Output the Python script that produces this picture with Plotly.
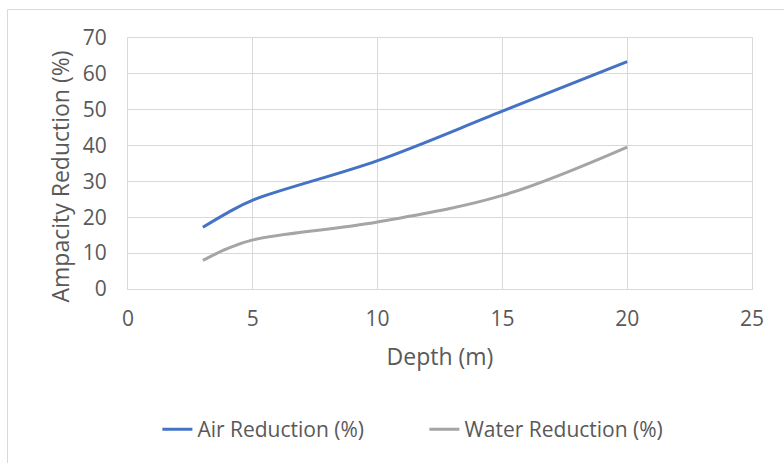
import plotly.graph_objects as go

depth = [3, 4, 5, 10, 15, 20]
air_reduction = [17.2, 21.3, 24.8, 35.8, 49.6, 63.4]
water_reduction = [8.0, 11.3, 13.7, 18.7, 26.1, 39.6]

x_ticks = [0, 5, 10, 15, 20, 25]
y_ticks = [0, 10, 20, 30, 40, 50, 60, 70]

FONT = "Open Sans"
TXT = "#595959"
GRID = "#D9D9D9"
FS = 21
FT = 23

fig = go.Figure()
fig.add_trace(go.Scatter(x=depth, y=air_reduction, mode="lines", name="Air Reduction (%)",
                         line=dict(color="#4472C4", width=3, shape="spline", smoothing=1.0)))
fig.add_trace(go.Scatter(x=depth, y=water_reduction, mode="lines", name="Water Reduction (%)",
                         line=dict(color="#A5A5A5", width=3, shape="spline", smoothing=1.0)))

fig.update_layout(
    width=784, height=463,
    margin=dict(l=128, r=32, t=38, b=174),
    paper_bgcolor="white", plot_bgcolor="white",
    font=dict(family=FONT, size=FS, color=TXT),
    showlegend=True,
    legend=dict(orientation="h", x=0.475, xanchor="center", y=-0.56, yanchor="middle",
                font=dict(family=FONT, size=FS, color=TXT),
                entrywidth=222, entrywidthmode="pixels",
                bgcolor="rgba(0,0,0,0)"),
    xaxis=dict(range=[0, 25], tickvals=x_ticks, showgrid=True, gridcolor=GRID, gridwidth=1,
               zeroline=False, showline=True, linecolor=GRID, linewidth=1, mirror=True,
               ticks="outside", ticklen=11, tickcolor="rgba(0,0,0,0)",
               tickfont=dict(family=FONT, size=FS, color=TXT),
               title=dict(text="Depth (m)", font=dict(family=FONT, size=FT, color=TXT), standoff=17)),
    yaxis=dict(range=[0, 70], tickvals=y_ticks, showgrid=True, gridcolor=GRID, gridwidth=1,
               zeroline=False, showline=True, linecolor=GRID, linewidth=1, mirror=True,
               ticks="outside", ticklen=16, tickcolor="rgba(0,0,0,0)",
               tickfont=dict(family=FONT, size=FS, color=TXT)),
    annotations=[dict(text="Ampacity Reduction (%)", textangle=-90, showarrow=False,
                      xref="paper", yref="paper", x=(59 - 128) / 624, y=(289 - 176.5) / 251,
                      xanchor="center", yanchor="middle",
                      font=dict(family=FONT, size=FT, color=TXT))],
)

# outer chart-area border
fig.add_shape(type="rect", xref="paper", yref="paper",
              x0=(7.5 - 128) / 624, x1=(800 - 128) / 624,
              y0=(289 - 480) / 251, y1=(289 - 9.5) / 251,
              line=dict(color=GRID, width=1), fillcolor="rgba(0,0,0,0)", layer="below")

fig.write_html("out.html")
